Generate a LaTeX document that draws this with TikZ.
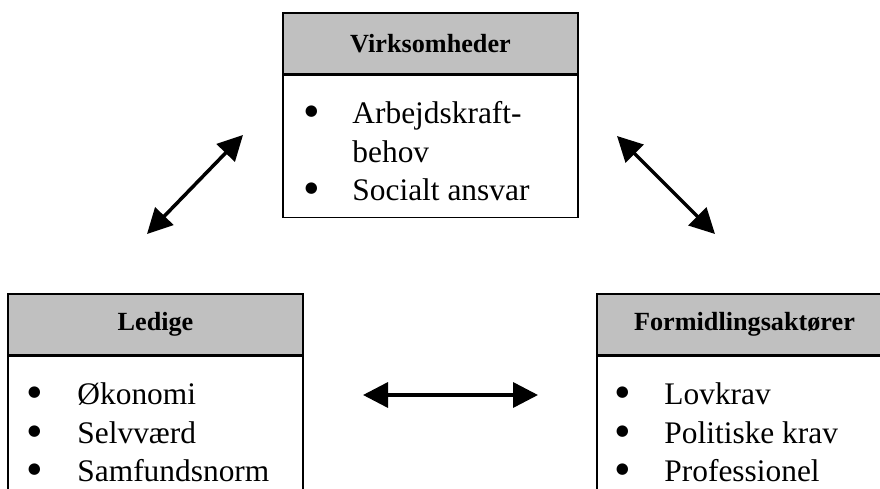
\documentclass[tikz,border=0pt]{standalone}
\usepackage{fontspec}
\setmainfont{Liberation Serif}
\newfontfamily\bulletfont{DejaVu Sans}
\usepackage{xcolor}
\usepackage{tikz}
\usetikzlibrary{positioning,calc,arrows.meta}
\definecolor{headgray}{RGB}{192,192,192}
\newcommand\dotmark{\raisebox{8pt}{\bulletfont\fontsize{15}{15}\selectfont ●}}

\begin{document}
\begin{tikzpicture}[x=1pt,y=-1pt,
    headbox/.style={rectangle, draw, line width=1.5pt, fill=headgray, minimum width=295pt, minimum height=61pt, inner sep=0pt, font=\fontsize{26.2}{30}\selectfont\bfseries},
    bodybox/.style={rectangle, draw, line width=1.5pt, minimum width=295pt, inner sep=0pt, anchor=north},
    itemlist/.style={inner sep=0pt, anchor=base west, font=\fontsize{31.4}{38.3}\selectfont},
    twoway/.style={line width=3.5pt, {Triangle[length=25pt,width=25pt]}-{Triangle[length=25pt,width=25pt]}}]
    \useasboundingbox (0,0) rectangle (880,489);
    \clip (0,0) rectangle (880,489);
    % the three actors
    \node[headbox] (virk) at (430.5,43.5) {Virksomheder};
    \node[bodybox, minimum height=142pt] (virkbody) at (virk.south) {};
    \node[itemlist] (virklist) at ($(virk.south west)+(22.5,49)$) {\begin{tabular}[t]{@{}p{47.5pt}@{}l@{}}
        \dotmark & Arbejdskraft-\\
                 & behov\\
        \dotmark & Socialt ansvar
    \end{tabular}};
    \node[headbox] (ledige) at (155.5,324.5) {Ledige};
    \node[bodybox, minimum height=200pt] (ledigebody) at (ledige.south) {};
    \node[itemlist] (ledigelist) at ($(ledige.south west)+(20.5,49)$) {\begin{tabular}[t]{@{}p{49.5pt}@{}l@{}}
        \dotmark & Økonomi\\
        \dotmark & Selvværd\\
        \dotmark & Samfundsnorm
    \end{tabular}};
    \node[headbox] (formid) at (744.5,324.5) {Formidlingsaktører};
    \node[bodybox, minimum height=200pt] (formidbody) at (formid.south) {};
    \node[itemlist] (formidlist) at ($(formid.south west)+(19.5,49)$) {\begin{tabular}[t]{@{}p{48.5pt}@{}l@{}}
        \dotmark & Lovkrav\\
        \dotmark & Politiske krav\\
        \dotmark & Professionel
    \end{tabular}};
    % arrows between them
    \coordinate (lv) at (147,234);
    \coordinate (vl) at (243,135);
    \coordinate (vf) at (617,136);
    \coordinate (fv) at (715,234);
    \coordinate (lf) at (363,395);
    \coordinate (fl) at (538,395);
    \draw[twoway] (lv) -- (vl);
    \draw[twoway] (vf) -- (fv);
    \draw[twoway] (lf) -- (fl);
\end{tikzpicture}
\end{document}
